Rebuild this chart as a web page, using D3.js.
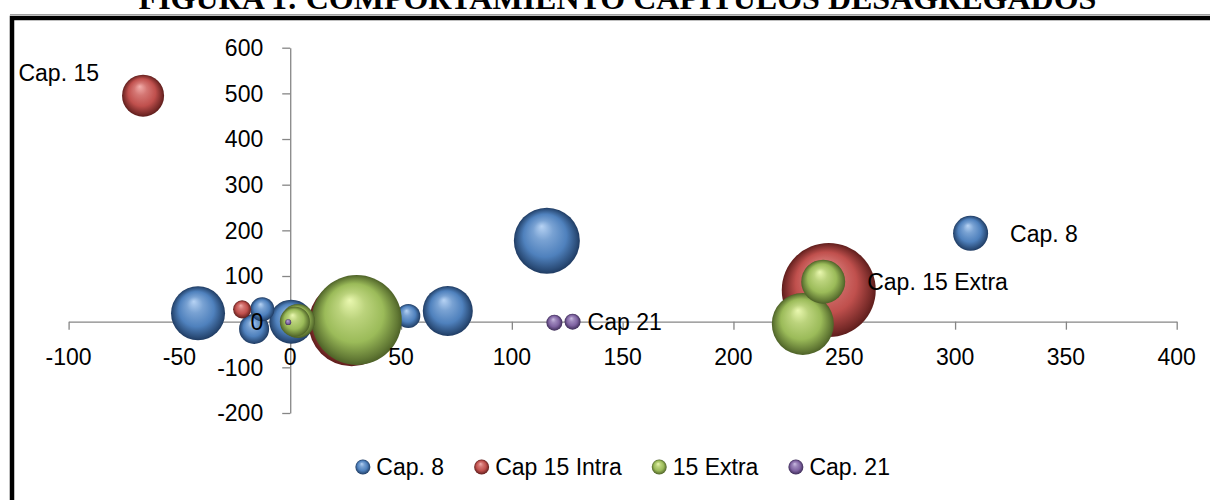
<!DOCTYPE html>
<html><head><meta charset="utf-8">
<script src="https://cdn.jsdelivr.net/npm/d3@7/dist/d3.min.js"></script>
<style>body{margin:0;background:#fff}svg{display:block}</style>
</head><body><svg id="c" width="1210" height="500"></svg>
<script>
// ---------- data ----------
const title = "FIGURA 1: COMPORTAMIENTO CAPÍTULOS DESAGREGADOS";
const seriesNames = ["Cap. 8", "Cap 15 Intra", "15 Extra", "Cap. 21"];

const cap8X    = [-41.6, -12.6, -16.3, 0.5, 53.3, 71.1, 115.8, 307.0];
const cap8Y    = [18.4, 27.0, -16.0, 0.0, 12.5, 23.4, 177.4, 193.6];
const cap8Size = [33.0, 6.5, 10.2, 21.9, 6.5, 28.3, 49.3, 13.9];

const cap15IntraX    = [-66.4, -21.7, 27.7, 243.0];
const cap15IntraY    = [495.0, 27.0, -3.5, 69.4];
const cap15IntraSize = [20.0, 3.7, 83.7, 100.0];

const extra15X    = [2.1, 3.5, 30.0, 240.5, 231.3];
const extra15Y    = [0.0, 1.5, 3.7, 87.6, -5.0];
const extra15Size = [10.2, 13.1, 91.7, 21.9, 43.5];

const cap21X    = [-0.9, 119.2, 127.4];
const cap21Y    = [-1.0, -2.2, 0.0];
const cap21Size = [0.4, 2.9, 2.9];

const xTickValues = [-100, -50, 0, 50, 100, 150, 200, 250, 300, 350, 400];
const yTickValues = [-200, -100, 0, 100, 200, 300, 400, 500, 600];

// data labels: text, series index, point index
const labelTexts  = ["Cap. 15", "Cap. 8", "Cap. 15 Extra", "Cap 21"];
const labelSeries = [1, 0, 2, 3];
const labelPoint  = [0, 7, 3, 2];

// ---------- layout / style ----------
const colors = [
  {light:"#b7d3f4", mid:"#4f81bd", dark:"#1f3b62"},
  {light:"#f2aeab", mid:"#c0504d", dark:"#5e1d1b"},
  {light:"#eaf8b0", mid:"#9bbb59", dark:"#4d6127"},
  {light:"#cbbde3", mid:"#8064a2", dark:"#3d2c57"}
];
const font = "'Liberation Sans', Arial, sans-serif";
const fs = 23;
const axisColor = "#868686";

const svg = d3.select("#c");
const defs = svg.append("defs");
colors.forEach((c, i) => {
  const g = defs.append("radialGradient").attr("id", "g" + i)
    .attr("cx", "0.5").attr("cy", "0.5").attr("r", "0.5")
    .attr("fx", "0.42").attr("fy", "0.28");
  g.append("stop").attr("offset", "0").attr("stop-color", c.light);
  g.append("stop").attr("offset", "0.3").attr("stop-color", d3.interpolateRgb(c.light, c.mid)(0.6));
  g.append("stop").attr("offset", "0.65").attr("stop-color", c.mid);
  g.append("stop").attr("offset", "0.92").attr("stop-color", d3.interpolateRgb(c.mid, c.dark)(0.75));
  g.append("stop").attr("offset", "1").attr("stop-color", c.dark);
});

// title (partially cut at top)
svg.append("text").attr("x", 617.5).attr("y", 9)
  .attr("text-anchor", "middle")
  .attr("font-family", "'Liberation Serif', 'Times New Roman', serif")
  .attr("font-weight", "bold").attr("font-size", 32)
  .text(title);

// frame
svg.append("line").attr("x1", 10).attr("x2", 1210).attr("y1", 14.5).attr("y2", 14.5)
  .attr("stroke", "#a0a0a0").attr("stroke-width", 1);
svg.append("rect").attr("x", 12).attr("y", 18).attr("width", 1400).attr("height", 700)
  .attr("fill", "none").attr("stroke", "#000").attr("stroke-width", 4.5);

// scales
const x = d3.scaleLinear().domain([-100, 400]).range([68.6, 1176.7]);
const y = d3.scaleLinear().domain([-200, 600]).range([413, 47.7]);
const r = d3.scaleSqrt().domain([0, 100]).range([0, 47]);

// axes lines + ticks (behind bubbles)
const xAxis = d3.axisBottom(x).tickValues(xTickValues).tickSizeInner(8).tickSizeOuter(0).tickFormat("");
const yAxis = d3.axisLeft(y).tickValues(yTickValues).tickSizeInner(8).tickSizeOuter(0).tickFormat("");
const gx = svg.append("g").attr("transform", `translate(0,${y(0)})`).call(xAxis);
const gy = svg.append("g").attr("transform", `translate(${x(0)},0)`).call(yAxis);
[gx, gy].forEach(g => {
  g.selectAll("path,line").attr("stroke", axisColor).attr("stroke-width", 1.3);
});

// bubbles
const series = [
  {xs: cap8X, ys: cap8Y, ss: cap8Size},
  {xs: cap15IntraX, ys: cap15IntraY, ss: cap15IntraSize},
  {xs: extra15X, ys: extra15Y, ss: extra15Size},
  {xs: cap21X, ys: cap21Y, ss: cap21Size}
];
series.forEach((s, si) => {
  const pts = s.xs.map((v, i) => ({x: v, y: s.ys[i], s: s.ss[i]}))
    .sort((a, b) => b.s - a.s);
  svg.append("g").selectAll("circle").data(pts).join("circle")
    .attr("cx", d => x(d.x)).attr("cy", d => y(d.y)).attr("r", d => r(d.s))
    .attr("fill", `url(#g${si})`);
});

// tick labels (on top)
svg.append("g").selectAll("text").data(xTickValues).join("text")
  .attr("x", d => x(d)).attr("y", y(0) + 35).attr("dy", "0.36em")
  .attr("text-anchor", "middle").attr("font-family", font).attr("font-size", fs)
  .text(d => d);
svg.append("g").selectAll("text").data(yTickValues).join("text")
  .attr("x", x(0) - 27).attr("y", d => y(d)).attr("dy", "0.36em")
  .attr("text-anchor", "end").attr("font-family", font).attr("font-size", fs)
  .text(d => d);

// data labels
const labelGap = [null, 22, 22, 7];
labelTexts.forEach((t, i) => {
  const s = series[labelSeries[i]], k = labelPoint[i];
  const cx = x(s.xs[k]), cy = y(s.ys[k]), rr = r(s.ss[k]);
  const tx = svg.append("text").attr("font-family", font).attr("font-size", fs).attr("dy", "0.36em").text(t);
  if (i === 0) {
    tx.attr("text-anchor", "end").attr("x", cx - rr - 23).attr("y", cy - 23);
  } else {
    tx.attr("x", cx + rr + labelGap[i]).attr("y", cy);
  }
});

// legend
const lg = svg.append("g");
let cursor = 0;
const items = seriesNames.map((n, i) => {
  const g = lg.append("g");
  g.append("circle").attr("cx", 0).attr("cy", 0).attr("r", 7.5).attr("fill", `url(#g${i})`);
  const t = g.append("text").attr("x", 13.5).attr("y", 0).attr("dy", "0.36em")
    .attr("font-family", font).attr("font-size", fs).text(n);
  const w = 13.5 + t.node().getComputedTextLength();
  g.attr("transform", `translate(${cursor + 7.5},0)`);
  cursor += 7.5 + w + 30;
  return g;
});
const totalW = cursor - 30;
const plotCenter = (x(-100) + x(400)) / 2;
lg.attr("transform", `translate(${plotCenter - totalW / 2},467)`);
</script>
</body></html>
